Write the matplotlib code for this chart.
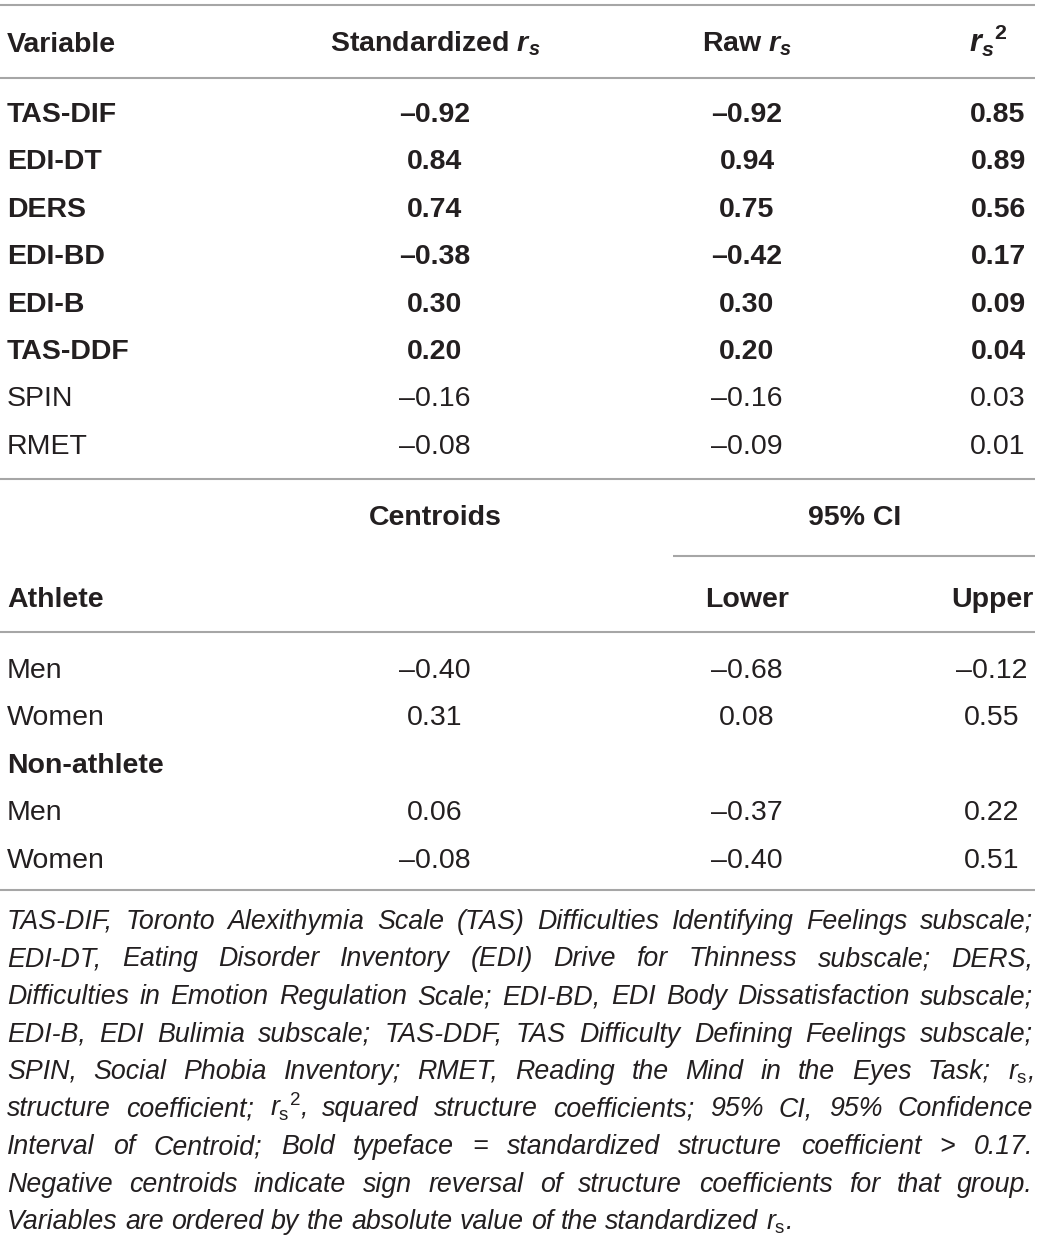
import matplotlib
matplotlib.use("Agg")
import matplotlib.pyplot as plt

plt.rcParams["font.family"] = ["Liberation Sans", "DejaVu Sans"]
plt.rcParams["mathtext.fontset"] = "custom"
plt.rcParams["mathtext.rm"] = "Liberation Sans"
plt.rcParams["mathtext.it"] = "Liberation Sans:italic"
plt.rcParams["mathtext.bf"] = "Liberation Sans:bold"
plt.rcParams["mathtext.bfit"] = "Liberation Sans:italic:bold"

# structure coefficients
variables = ["TAS-DIF", "EDI-DT", "DERS", "EDI-BD", "EDI-B", "TAS-DDF", "SPIN", "RMET"]
std_rs = [-0.92, 0.84, 0.74, -0.38, 0.30, 0.20, -0.16, -0.08]
raw_rs = [-0.92, 0.94, 0.75, -0.42, 0.30, 0.20, -0.16, -0.09]
rs_sq = [0.85, 0.89, 0.56, 0.17, 0.09, 0.04, 0.03, 0.01]
bold_cut = 0.17

# group centroids
groups = ["Athlete", "Non-athlete"]
sexes = ["Men", "Women"]
centroids = [[-0.40, 0.31], [0.06, -0.08]]
ci_lower = [[-0.68, 0.08], [-0.37, -0.40]]
ci_upper = [[-0.12, 0.55], [0.22, 0.51]]

notes = [
    "TAS-DIF, Toronto Alexithymia Scale (TAS) Difficulties Identifying Feelings subscale;",
    "EDI-DT, Eating Disorder Inventory (EDI) Drive for Thinness subscale; DERS,",
    "Difficulties in Emotion Regulation Scale; EDI-BD, EDI Body Dissatisfaction subscale;",
    "EDI-B, EDI Bulimia subscale; TAS-DDF, TAS Difficulty Defining Feelings subscale;",
    r"SPIN, Social Phobia Inventory; RMET, Reading the Mind in the Eyes Task; $\mathit{r}_{\mathrm{s}}$,",
    r"structure coefficient; ${\mathit{r}_{\mathrm{s}}}^{2}$, squared structure coefficients; 95% CI, 95% Confidence",
    "Interval of Centroid; Bold typeface = standardized structure coefficient > 0.17.",
    "Negative centroids indicate sign reversal of structure coefficients for that group.",
    r"Variables are ordered by the absolute value of the standardized $\mathit{r}_{\mathrm{s}}$.",
]

INK = "#231f20"
RULE = "#a6a6a6"
FS = 20.5
NFS = 19.3


def fmt(v):
    return f"{v:.2f}".replace("-", "\u2013")


fig = plt.figure(figsize=(10.4, 12.4), dpi=100)
ax = fig.add_axes([0, 0, 1, 1])
ax.set_xlim(0, 1040)
ax.set_ylim(1240, 0)
ax.axis("off")

x_var, x_std, x_raw, x_sq = 7, 435, 747, 998


def rule(y, x0=0, x1=1035):
    ax.plot([x0, x1], [y, y], color=RULE, lw=1.5, solid_capstyle="butt")


def cell(x, y, s, bold=False, ha="center", size=FS):
    ax.text(x, y, s, ha=ha, va="baseline", fontsize=size, color=INK,
            fontweight="bold" if bold else "normal")


# top part
rule(5)
cell(x_var, 52, "Variable", True, "left")
cell(x_std, 52, r"Standardized $\mathbfit{r}_{\mathbfit{s}}$", True)
cell(x_raw, 52, r"Raw $\mathbfit{r}_{\mathbfit{s}}$", True)
cell(988, 52, r"${\mathbfit{r}_{\mathbfit{s}}}^{\mathbf{2}}$", True, size=22)
rule(78)

row_y = 122
for i, name in enumerate(variables):
    b = abs(std_rs[i]) > bold_cut
    y = row_y + i * 47.4
    cell(x_var, y, name, b, "left")
    cell(x_std, y, fmt(std_rs[i]), b)
    cell(x_raw, y, fmt(raw_rs[i]), b)
    cell(x_sq, y, fmt(rs_sq[i]), b)

# bottom part
rule(479)
cell(x_std, 525, "Centroids", True)
cell(855, 525, "95% CI", True)
rule(556, 673, 1035)
cell(x_var, 607, "Athlete", True, "left")
cell(x_raw, 607, "Lower", True)
cell(992, 607, "Upper", True)
rule(632)

y = 678
for g, grp in enumerate(groups):
    if g > 0:
        cell(x_var, y, grp, True, "left")
        y += 47.4
    for k, sx in enumerate(sexes):
        cell(x_var, y, sx, False, "left")
        cell(x_std, y, fmt(centroids[g][k]))
        cell(x_raw, y, fmt(ci_lower[g][k]))
        cell(992, y, fmt(ci_upper[g][k]))
        y += 47.4

rule(890)

# justified footnote
fig.canvas.draw()
renderer = fig.canvas.get_renderer()
left, right = 7, 1033
ny = 929
for j, line in enumerate(notes):
    words = line.split(" ")
    objs = []
    for w in words:
        t = ax.text(0, ny, w, ha="left", va="baseline", fontsize=NFS,
                    style="italic", color=INK)
        objs.append(t)
    widths = [t.get_window_extent(renderer).width for t in objs]
    if j < len(notes) - 1:
        gap = (right - left - sum(widths)) / (len(words) - 1)
    else:
        gap = NFS * 100 / 72 * 0.278
    x = left
    for t, w in zip(objs, widths):
        t.set_x(x)
        x += w + gap
    ny += 37.5

fig.savefig("out.png", dpi=100)
